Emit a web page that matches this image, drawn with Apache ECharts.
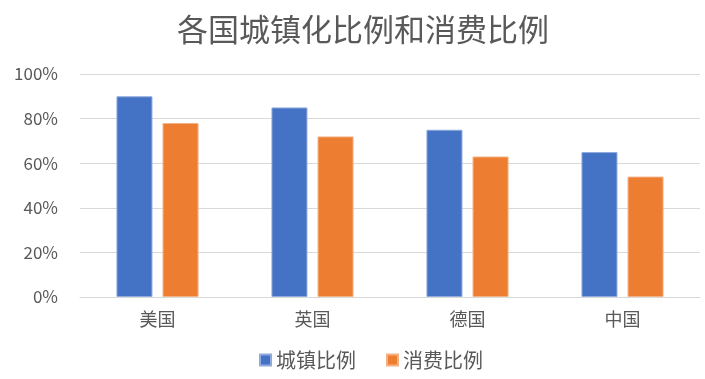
<!DOCTYPE html>
<html><head><meta charset="utf-8">
<script src="https://cdn.jsdelivr.net/npm/echarts@6/dist/echarts.min.js"></script>
<style>html,body{margin:0;padding:0;background:#fff}#c{width:705px;height:379px}</style>
</head><body><div id="c"></div>
<script>
const categories = ['美国', '英国', '德国', '中国'];
const urbanization = [90, 85, 75, 65];
const consumption = [78, 72, 63, 54];
const seriesNames = ['城镇比例', '消费比例'];
const titleText = '各国城镇化比例和消费比例';

const chart = echarts.init(document.getElementById('c'));
const font = '"Noto Sans CJK SC", "Noto Sans", sans-serif';
chart.setOption({
  animation: false,
  title: { text: titleText, left: 172, top: 9, textStyle: { fontFamily: font, fontSize: 31, fontWeight: 'normal', color: '#595959' } },
  legend: { data: seriesNames, bottom: 4, left: 254, itemWidth: 11, itemHeight: 11, itemGap: 30, icon: 'rect',
    textStyle: { fontFamily: font, fontSize: 20, color: '#595959' } },
  grid: { left: 80, right: 5, top: 74, bottom: 82 },
  xAxis: { type: 'category', data: categories,
    axisLine: { lineStyle: { color: '#d9d9d9', width: 1 } }, axisTick: { show: false },
    axisLabel: { fontFamily: font, fontSize: 18, color: '#595959', margin: 13 } },
  yAxis: { type: 'value', min: 0, max: 100, interval: 20,
    axisLabel: { formatter: '{value}%', fontFamily: font, fontSize: 17, color: '#595959', margin: 22 },
    splitLine: { lineStyle: { color: '#d9d9d9', width: 1 } }, axisLine: { show: false }, axisTick: { show: false } },
  series: [
    { name: seriesNames[0], type: 'bar', data: urbanization, barWidth: 36, barGap: '28%',
      itemStyle: { color: '#4472C4', borderColor: '#8faadc', borderWidth: 1 } },
    { name: seriesNames[1], type: 'bar', data: consumption, barWidth: 36,
      itemStyle: { color: '#ED7D31', borderColor: '#f4b183', borderWidth: 1 } }
  ]
});
</script></body></html>
